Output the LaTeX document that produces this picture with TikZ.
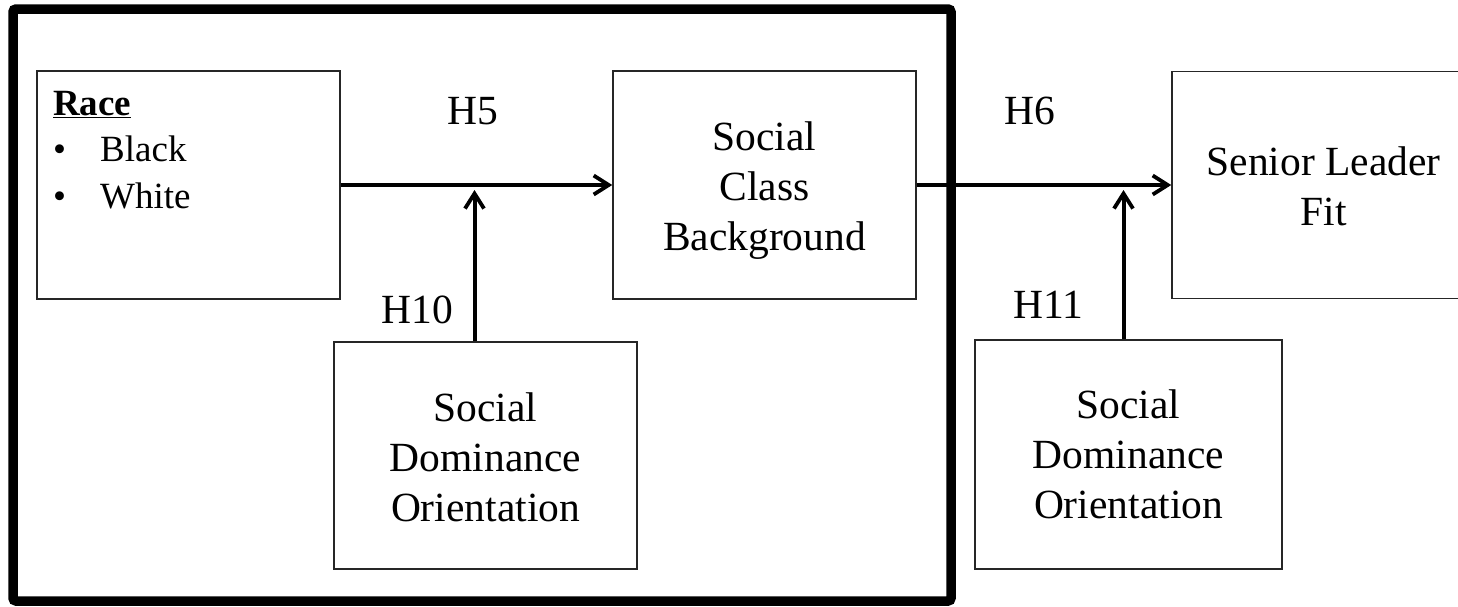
\documentclass[tikz,border=0pt]{standalone}
\usepackage{fontspec}
\setmainfont{Liberation Serif}
\usetikzlibrary{arrows.meta,calc}
% centred lines whose baseline is that of the first line
\newcommand{\linestack}[1]{\begin{tabular}[t]{@{}c@{}}#1\end{tabular}}
\tikzset{
  box/.style={draw=black!85, line width=1.5pt, fill=white, inner sep=0pt},
  boxtext/.style={anchor=base, inner sep=0pt, font=\fontsize{41.5}{50}\selectfont},
  hlabel/.style={font=\fontsize{41.5}{50}\selectfont, inner sep=0pt},
  link/.style={line width=4pt, -{Straight Barb[length=15pt,width=19pt,line width=3.8pt]}},
  frame/.style={draw, line width=9.5pt, rounded corners=3pt, inner sep=0pt}
}
\begin{document}
\begin{tikzpicture}[x=1pt,y=-1pt]
  \clip (0,0) rectangle (1458,606);
  \fill[white] (0,0) rectangle (1458,606);

  % thick frame around the first stage
  \node[frame, minimum width=938pt, minimum height=592pt] (stage) at (482,305) {};

  % boxes
  \node[box, minimum width=303pt, minimum height=228pt] (race) at (188.5,185) {};
  \node[box, minimum width=303pt, minimum height=228pt] (class) at (764.5,185) {};
  \node[box, minimum width=303pt, minimum height=227pt] (slf) at (1323.5,185) {};
  \node[box, minimum width=303pt, minimum height=227pt] (sdoA) at (485.5,455.5) {};
  \node[box, minimum width=307pt, minimum height=229pt] (sdoB) at (1128.5,454.5) {};

  % box texts
  \node[anchor=base west, inner sep=0pt, font=\fontsize{37}{46.5}\selectfont]
    (racetext) at (53,115)
    {\begin{tabular}[t]{@{}l@{}}\textbf{\underline{Race}}\\
     \makebox[47pt][l]{\textbullet}Black\\
     \makebox[47pt][l]{\textbullet}White\end{tabular}};
  \node[boxtext] (classtext) at ($(class.center)+(0,-35)$)
    {\linestack{Social\\Class\\Background}};
  \node[boxtext] (slftext) at ($(slf.center)+(0,-10)$)
    {\linestack{Senior Leader\\Fit}};
  \node[boxtext] (sdoAtext) at ($(sdoA.center)+(0,-34.5)$)
    {\linestack{Social\\Dominance\\Orientation}};
  \node[boxtext] (sdoBtext) at ($(sdoB.center)+(0,-36)$)
    {\linestack{Social\\Dominance\\Orientation}};

  % paths
  \draw[link] (race.east) -- (class.west);
  \draw[link] (class.east) -- (slf.west);
  \coordinate (mA) at ($(sdoA.north)+(-11,0)$);
  \coordinate (mB) at ($(sdoB.north)+(-5,0)$);
  \draw[link] (mA) -- ($(mA |- race.east)+(0,5)$);
  \draw[link] (mB) -- ($(mB |- class.east)+(0,5)$);

  % hypothesis labels
  \node[hlabel] (h5) at (472.5,111) {H5};
  \node[hlabel] (h6) at (1029.5,111) {H6};
  \node[hlabel] (h10) at (417.5,310) {H10};
  \node[hlabel] (h11) at (1048.5,304.5) {H11};
\end{tikzpicture}
\end{document}
